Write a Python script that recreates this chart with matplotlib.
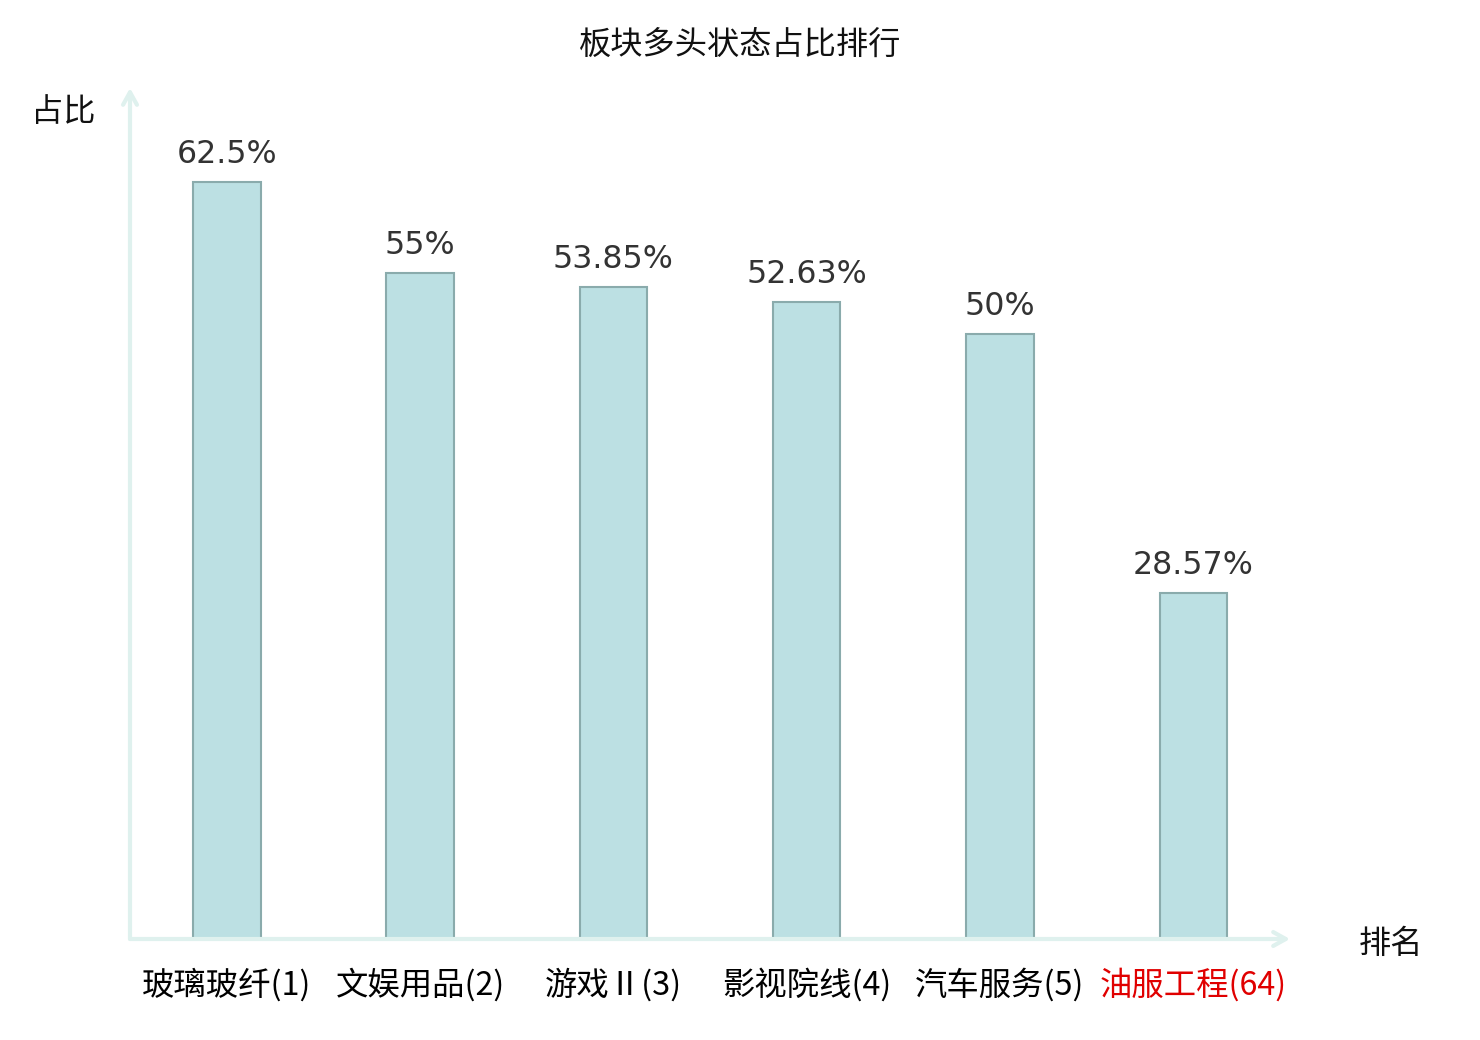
import matplotlib
matplotlib.use("Agg")
import matplotlib.pyplot as plt

plt.rcParams['font.family'] = ['Noto Sans CJK SC', 'DejaVu Sans']

categories = ["玻璃玻纤(1)", "文娱用品(2)", "游戏Ⅱ(3)", "影视院线(4)", "汽车服务(5)", "油服工程(64)"]
values = [62.5, 55, 53.85, 52.63, 50, 28.57]
value_labels = ["62.5%", "55%", "53.85%", "52.63%", "50%", "28.57%"]
label_colors = ["#000000", "#000000", "#000000", "#000000", "#000000", "#e00000"]

title = "板块多头状态占比排行"
y_name = "占比"
x_name = "排名"

fig = plt.figure(figsize=(14.8, 10.4), dpi=100)
ax = fig.add_axes([130/1480, 1 - 939/1040, (1290-130)/1480, (939-88)/1040])

x = list(range(len(categories)))
ax.bar(x, values, width=0.35, color="#bce0e3", edgecolor="#8aabac", linewidth=1.5, zorder=3)
ax.set_xlim(-0.5, len(categories) - 0.5)
ax.set_ylim(0, 70.3)

for xi, v, lab in zip(x, values, value_labels):
    ax.annotate(lab, (xi, v), xytext=(0, 12), textcoords="offset pixels",
                ha="center", va="bottom", fontsize=22.8, color="#333333",
                family=["DejaVu Sans", "Noto Sans CJK SC"])

for s in ax.spines.values():
    s.set_visible(False)
ax.set_yticks([])
ax.set_xticks(x)
ax.set_xticklabels(categories, fontsize=23.3)
ax.tick_params(axis="x", length=0, pad=21)
for t, c in zip(ax.get_xticklabels(), label_colors):
    t.set_color(c)

axis_color = "#dff1ee"
ax.annotate("", xy=(0, 1), xytext=(0, 0), xycoords="axes fraction",
            arrowprops=dict(arrowstyle="->,head_length=0.9,head_width=0.5", color=axis_color, lw=3,
                            shrinkA=0, shrinkB=0), annotation_clip=False)
ax.annotate("", xy=(1, 0), xytext=(0, 0), xycoords="axes fraction",
            arrowprops=dict(arrowstyle="->,head_length=0.9,head_width=0.5", color=axis_color, lw=3,
                            shrinkA=0, shrinkB=0), annotation_clip=False)

fig.text(740/1480, 1 - 45/1040, title, ha="center", va="center", fontsize=23.2, color="#111111")
fig.text(63/1480, 1 - 112/1040, y_name, ha="center", va="center", fontsize=23.2, color="#111111")
fig.text(1391/1480, 1 - 944/1040, x_name, ha="center", va="center", fontsize=23.2, color="#111111")

fig.savefig("out.png", dpi=100)
